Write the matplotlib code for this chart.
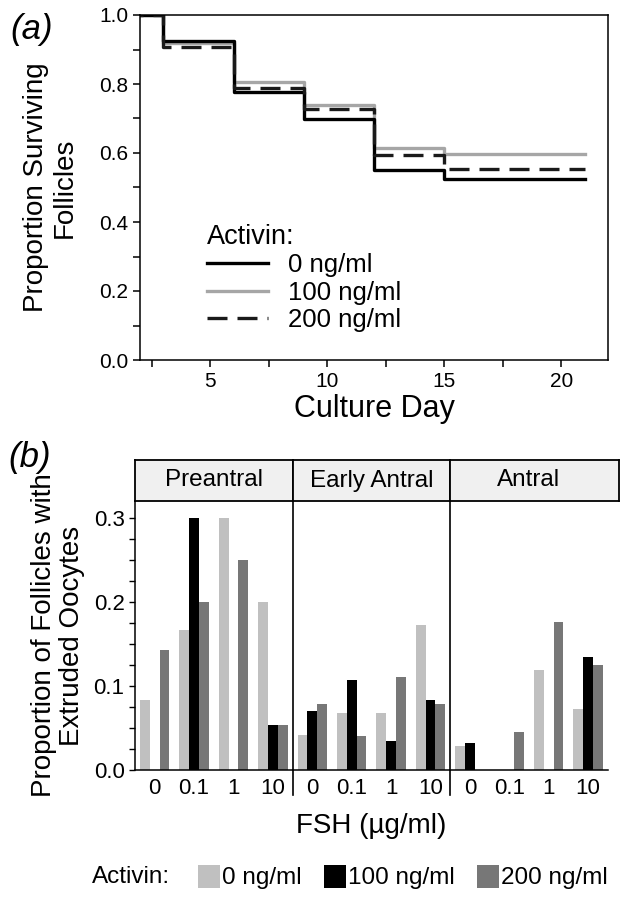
import numpy as np
import matplotlib.pyplot as plt
from matplotlib.ticker import MultipleLocator

plt.rcParams['font.family'] = ['Liberation Sans', 'DejaVu Sans']

# (a) survival curves
days = [0, 3, 6, 9, 12, 15, 21]
surv_0 = [1.0, 0.925, 0.778, 0.700, 0.550, 0.525, 0.525]
surv_100 = [1.0, 0.918, 0.805, 0.740, 0.615, 0.598, 0.598]
surv_200 = [1.0, 0.907, 0.787, 0.728, 0.593, 0.553, 0.553]

# (b) extruded oocytes
stages = ['Preantral', 'Early Antral', 'Antral']
fsh = ['0', '0.1', '1', '10']
activin = ['0 ng/ml', '100 ng/ml', '200 ng/ml']
ext_0 = [[0.083, 0.167, 0.300, 0.200],
         [0.042, 0.068, 0.068, 0.173],
         [0.029, 0.0, 0.119, 0.072]]
ext_100 = [[0.0, 0.300, 0.0, 0.053],
           [0.070, 0.107, 0.034, 0.083],
           [0.032, 0.0, 0.0, 0.135]]
ext_200 = [[0.143, 0.200, 0.250, 0.053],
           [0.078, 0.041, 0.111, 0.079],
           [0.0, 0.045, 0.176, 0.125]]

W, H = 621, 900
fig = plt.figure(figsize=(W / 100, H / 100), dpi=100)


def box(x0, y0, x1, y1):
    # pixel box (top-left origin) -> figure fraction rect
    return [x0 / W, 1 - y1 / H, (x1 - x0) / W, (y1 - y0) / H]


# ---------- panel (a) ----------
ax = fig.add_axes(box(140, 15, 608, 360))
ax.step(days, surv_100, where='post', color='#a6a6a6', lw=2.4, label='100 ng/ml')
ax.step(days, surv_0, where='post', color='black', lw=2.4, label='0 ng/ml')
ax.step(days, surv_200, where='post', color='#1a1a1a', lw=2.4, ls=(0, (6, 3)), label='200 ng/ml')
ax.set_xlim(2, 22)
ax.set_ylim(0, 1.0)
ax.xaxis.set_major_locator(MultipleLocator(5))
ax.xaxis.set_minor_locator(MultipleLocator(2.5))
ax.yaxis.set_major_locator(MultipleLocator(0.2))
ax.yaxis.set_minor_locator(MultipleLocator(0.1))
ax.yaxis.set_major_formatter(plt.FormatStrFormatter('%.1f'))
ax.tick_params(which='both', direction='out', length=5, width=1.1, labelsize=15)
for s in ax.spines.values():
    s.set_linewidth(1.1)
ax.set_xlabel('Culture Day', fontsize=22, labelpad=2)
ax.set_ylabel('Proportion Surviving\nFollicles', fontsize=20, labelpad=15, linespacing=1.15)

h = {l.get_label(): l for l in ax.get_lines()}
leg = ax.legend([h['0 ng/ml'], h['100 ng/ml'], h['200 ng/ml']], activin,
                title='Activin:', loc='lower left', bbox_to_anchor=(0.115, 0.045),
                frameon=False, fontsize=18.5, title_fontsize=19.5, alignment='left',
                handlelength=2.4, handletextpad=0.75, labelspacing=0.12, borderpad=0)
fig.text(10 / W, 1 - 30 / H, '(a)', fontsize=25, style='italic', va='center')

# ---------- panel (b) ----------
colors = ['#c0c0c0', 'black', '#777777']
series = [ext_0, ext_100, ext_200]
x = np.arange(len(fsh))
bw = 0.25
fw = 157.6
handles = []
for i, stage in enumerate(stages):
    x0 = 135 + fw * i
    axb = fig.add_axes(box(x0, 501, x0 + fw, 770))
    for j, vals in enumerate(series):
        bars = axb.bar(x + (j - 1) * bw, vals[i], width=bw, color=colors[j], label=activin[j])
        if i == 0:
            handles.append(bars)
    axb.set_xlim(-0.5, 3.5)
    axb.set_ylim(0, 0.32)
    axb.set_xticks(x)
    axb.set_xticklabels(fsh)
    axb.tick_params(axis='x', length=0, labelsize=16, pad=6)
    axb.spines['top'].set_visible(False)
    axb.spines['right'].set_visible(False)
    axb.spines['bottom'].set_linewidth(1.1)
    if i == 0:
        axb.yaxis.set_major_locator(MultipleLocator(0.1))
        axb.yaxis.set_minor_locator(MultipleLocator(0.025))
        axb.yaxis.set_major_formatter(plt.FormatStrFormatter('%.1f'))
        axb.tick_params(axis='y', which='both', direction='out', length=4, width=1.0, labelsize=16)
        axb.spines['left'].set_linewidth(1.1)
        axb.set_ylabel('Proportion of Follicles with\nExtruded Oocytes', fontsize=20,
                       labelpad=6, linespacing=1.1)
    else:
        axb.spines['left'].set_visible(False)
        axb.set_yticks([])
        axb.plot([0, 0], [-0.093, 1.0], transform=axb.transAxes, color='black',
                 lw=1.2, clip_on=False)
    if i == 1:
        axb.set_xlabel('FSH (µg/ml)', fontsize=20, labelpad=10)

    sx1 = x0 + fw if i < 2 else 619
    st = fig.add_axes(box(x0, 460, sx1, 501))
    st.set_facecolor('#f0f0f0')
    st.set_xticks([])
    st.set_yticks([])
    for s in st.spines.values():
        s.set_linewidth(1.3)
    st.text(0.5 * fw / (sx1 - x0), 0.5, stage, transform=st.transAxes,
            ha='center', va='center', fontsize=17.5)

fig.text(8 / W, 1 - 458 / H, '(b)', fontsize=25, style='italic', va='center')
fig.text(92 / W, 1 - 877 / H, 'Activin:', fontsize=17.5, va='center')
fig.legend(handles, activin, loc='center left', bbox_to_anchor=(186 / W, 1 - 877 / H),
           ncol=3, frameon=False, fontsize=17.5, handlelength=0.9, handleheight=1.1,
           handletextpad=0.1, columnspacing=0.9, borderpad=0)

fig.savefig('out.png', dpi=100)
